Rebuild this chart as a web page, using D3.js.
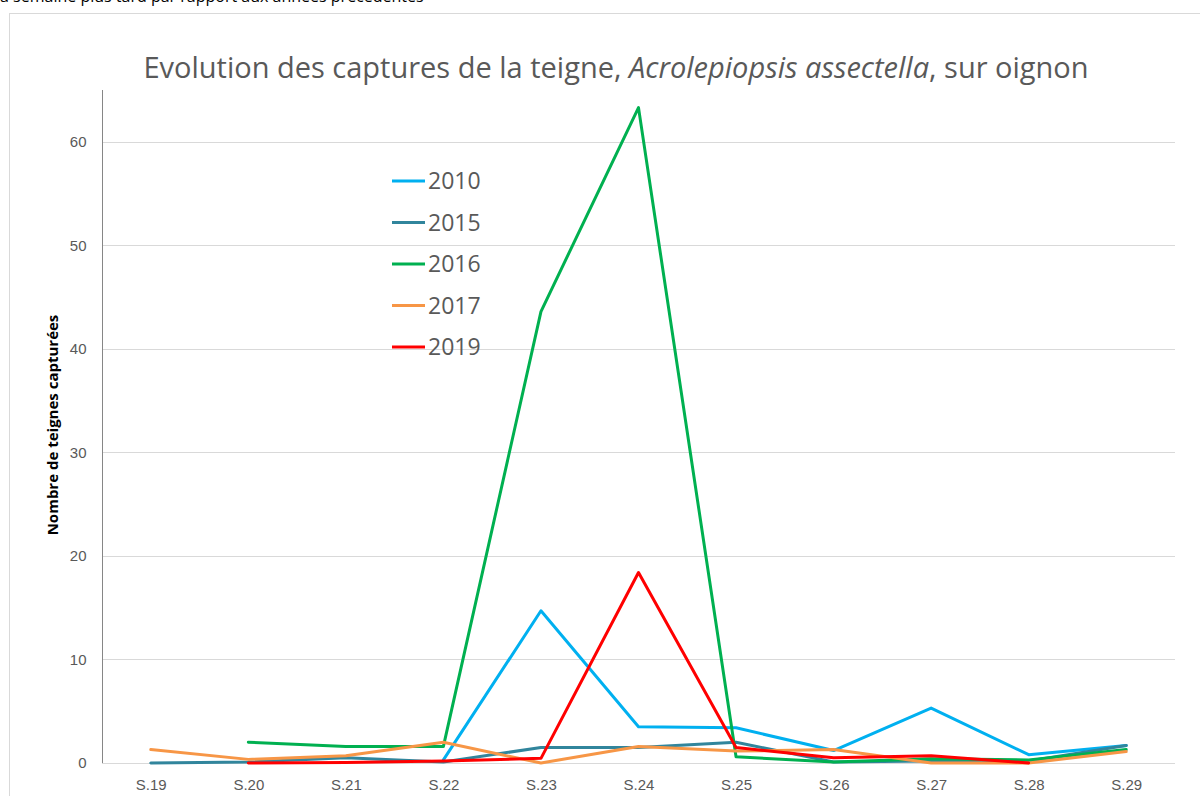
<!DOCTYPE html>
<html lang="fr">
<head>
<meta charset="UTF-8">
<title>Evolution des captures</title>
<script src="https://d3js.org/d3.v7.min.js"></script>
<style>
    body { margin: 0; background: #fff; overflow: hidden; }
    svg { display: block; font-family: "Open Sans", sans-serif; }
</style>
</head>
<body>
<div id="chart"></div>
<script>
    // weeks and captures per year (null = no trap reading)
    const weeks = ["S.19", "S.20", "S.21", "S.22", "S.23", "S.24", "S.25", "S.26", "S.27", "S.28", "S.29"];
    const years = ["2010", "2015", "2016", "2017", "2019"];
    const v2010 = [null, null, null, 0.3, 14.7, 3.5, 3.4, 1.2, 5.3, 0.8, 1.7];
    const v2015 = [0, 0.1, 0.5, 0.1, 1.5, 1.5, 2.0, 0.1, 0.2, 0.2, 1.7];
    const v2016 = [null, 2.0, 1.6, 1.6, 43.6, 63.3, 0.6, 0.1, 0.4, 0.3, 1.3];
    const v2017 = [1.3, 0.35, 0.7, 2.0, 0, 1.6, 1.15, 1.3, 0, 0, 1.1];
    const v2019 = [null, 0, 0.05, 0.2, 0.45, 18.4, 1.5, 0.5, 0.7, 0, null];
    const yTicks = [0, 10, 20, 30, 40, 50, 60];
    const colors = ["#00B0F0", "#31859C", "#00B050", "#F79646", "#FF0000"];

    const series = [v2010, v2015, v2016, v2017, v2019];

    const width = 1200, height = 796;
    const svg = d3.select("#chart").append("svg")
        .attr("width", width).attr("height", height);

    // cut-off line of text above the chart (only its lower edge shows)
    svg.append("text")
        .attr("x", -4).attr("y", 2)
        .style("font-size", "16px")
        .style("fill", "#000")
        .text("la semaine plus tard par rapport aux années précédentes");

    // chart frame
    svg.append("rect")
        .attr("x", 9.5).attr("y", 13.5)
        .attr("width", 1200).attr("height", 800)
        .attr("fill", "#fff")
        .attr("stroke", "#d9d9d9");

    const plotLeft = 102, plotRight = 1175, plotTop = 90, plotBottom = 763;

    const x = d3.scalePoint().domain(weeks).range([plotLeft, plotRight]).padding(0.5);
    const y = d3.scaleLinear().domain([0, 65]).range([plotBottom, plotTop]);

    // gridlines
    svg.append("g")
        .selectAll("line")
        .data(yTicks.filter(d => d > 0))
        .enter().append("line")
        .attr("x1", plotLeft).attr("x2", plotRight)
        .attr("y1", d => Math.round(y(d)) + 0.5).attr("y2", d => Math.round(y(d)) + 0.5)
        .attr("stroke", "#d9d9d9");

    // y axis
    const yAxis = svg.append("g")
        .attr("transform", `translate(${plotLeft + 0.5},0)`)
        .call(d3.axisLeft(y).tickValues(yTicks).tickSize(0).tickPadding(16));
    yAxis.select(".domain").attr("stroke", "#868686").attr("d", `M0,${plotTop}V${plotBottom}`);
    yAxis.selectAll("text").style("font-size", "15px").style("fill", "#595959");

    // x axis
    const xAxis = svg.append("g")
        .attr("transform", `translate(0,${plotBottom + 0.5})`)
        .call(d3.axisBottom(x).tickSize(0).tickPadding(16));
    xAxis.select(".domain").attr("stroke", "#d9d9d9").attr("d", `M${plotLeft},0H${plotRight}`);
    xAxis.selectAll("text").style("font-size", "15px").style("fill", "#595959");

    // y axis title
    svg.append("text")
        .attr("transform", `translate(58,425) rotate(-90)`)
        .attr("text-anchor", "middle")
        .style("font-size", "15px")
        .style("font-weight", "bold")
        .style("fill", "#000")
        .text("Nombre de teignes capturées");

    // title
    const title = svg.append("text")
        .attr("x", 616).attr("y", 78)
        .attr("text-anchor", "middle")
        .style("font-size", "29px")
        .style("fill", "#595959");
    title.append("tspan").text("Evolution des captures de la teigne, ");
    title.append("tspan").style("font-style", "italic").text("Acrolepiopsis assectella");
    title.append("tspan").text(", sur oignon");

    // lines
    const line = d3.line()
        .defined(d => d != null)
        .x((d, i) => x(weeks[i]))
        .y(d => y(d));

    svg.append("g")
        .selectAll("path")
        .data(series)
        .enter().append("path")
        .attr("d", d => line(d))
        .attr("fill", "none")
        .attr("stroke", (d, i) => colors[i])
        .attr("stroke-width", 3)
        .attr("stroke-linejoin", "round")
        .attr("stroke-linecap", "round");

    // legend
    const legend = svg.append("g")
        .selectAll("g")
        .data(years)
        .enter().append("g")
        .attr("transform", (d, i) => `translate(392,${181 + i * 41.5})`);
    legend.append("line")
        .attr("x1", 0).attr("x2", 33)
        .attr("stroke", (d, i) => colors[i])
        .attr("stroke-width", 3);
    legend.append("text")
        .attr("x", 36).attr("dy", "0.35em")
        .style("font-size", "23px")
        .style("fill", "#595959")
        .text(d => d);
</script>
</body>
</html>
